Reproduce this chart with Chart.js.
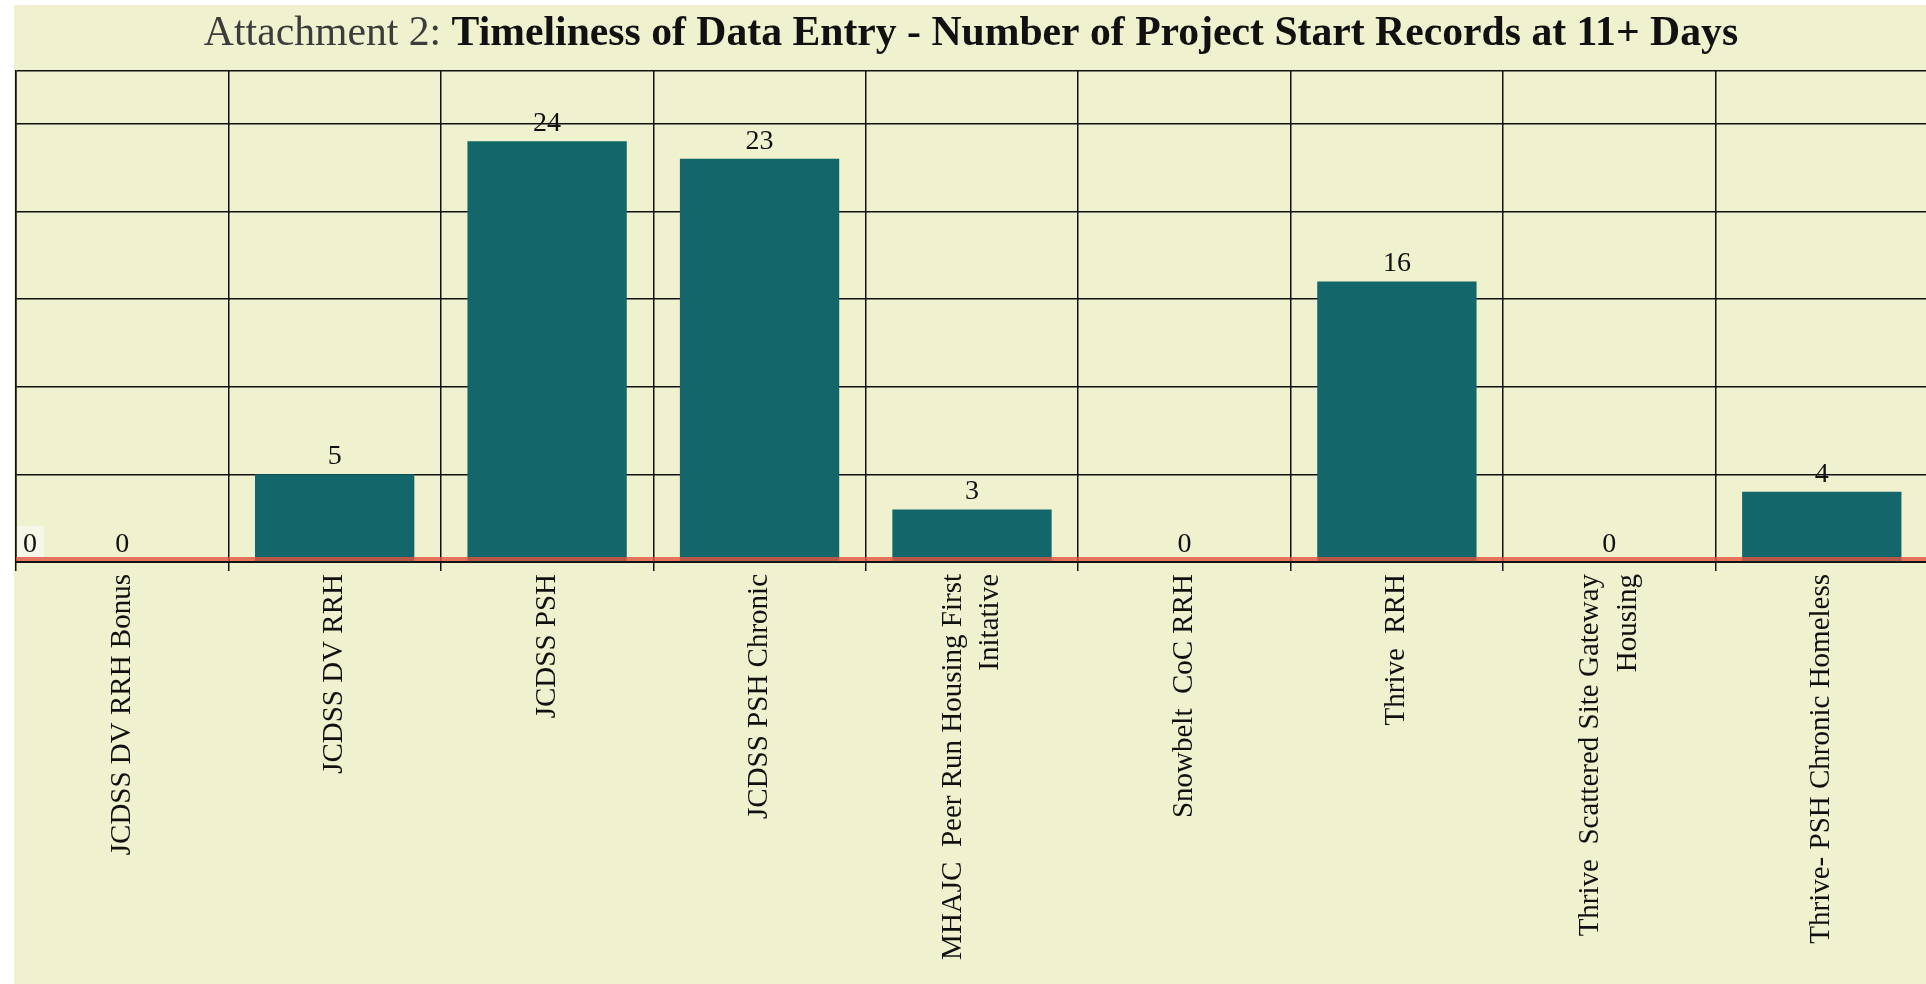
<!DOCTYPE html>
<html>
<head>
<meta charset="utf-8">
<script src="https://cdn.jsdelivr.net/npm/chart.js@4.4.1/dist/chart.umd.min.js"></script>
<style>
  html, body { margin: 0; padding: 0; background: #ffffff; overflow: hidden; }
  #wrap { position: absolute; left: 14px; top: 5px; width: 1914px; height: 979px; background: #f0f2cf; }
</style>
</head>
<body>
<div id="wrap"><canvas id="chart"></canvas></div>
<script>
// data
const categories = [
  "JCDSS DV RRH Bonus",
  "JCDSS DV RRH",
  "JCDSS PSH",
  "JCDSS PSH Chronic",
  ["MHAJC  Peer Run Housing First", "Initative"],
  "Snowbelt  CoC RRH",
  "Thrive  RRH",
  ["Thrive  Scattered Site Gateway", "Housing"],
  "Thrive- PSH Chronic Homeless"
];
const recordCounts = [0, 5, 24, 23, 3, 0, 16, 0, 4];
const yTickValues = [0, 5, 10, 15, 20, 25, 28];
const titlePrefix = "Attachment 2: ";
const titleMain = "Timeliness of Data Entry - Number of Project Start Records at 11+ Days";

const FONT = "'Liberation Serif', 'Times New Roman', serif";
const BAR_COLOR = "#13676a";
const LABEL_SIZE = 29;
const LABEL_LINE = 1.3;

// title with two weights, drawn in the top padding
const titlePlugin = {
  id: "twoPartTitle",
  beforeDraw(chart) {
    // centre the two-line category labels on their tick like the original
    const shift = LABEL_SIZE * LABEL_LINE / 2;
    chart.scales.x.getLabelItems().forEach(item => {
      if (Array.isArray(item.label)) item.options.translation[0] -= shift;
    });
  },
  afterDraw(chart) {
    const ctx = chart.ctx;
    const size = 41.7;
    ctx.save();
    ctx.textBaseline = "alphabetic";
    ctx.font = "normal " + size + "px " + FONT;
    const w1 = ctx.measureText(titlePrefix).width;
    ctx.font = "bold " + size + "px " + FONT;
    const w2 = ctx.measureText(titleMain).width;
    let x = chart.width / 2 - (w1 + w2) / 2;
    ctx.textAlign = "left";
    ctx.fillStyle = "#3c3c3c";
    ctx.font = "normal " + size + "px " + FONT;
    ctx.fillText(titlePrefix, x, 40);
    ctx.fillStyle = "#111111";
    ctx.font = "bold " + size + "px " + FONT;
    ctx.fillText(titleMain, x + w1, 40);
    ctx.restore();
  }
};

// value labels, the red zero line and the little "0" box at the left
const labelPlugin = {
  id: "valueLabels",
  afterDatasetsDraw(chart) {
    const ctx = chart.ctx;
    const area = chart.chartArea;
    const y0 = chart.scales.y.getPixelForValue(0);
    ctx.save();
    ctx.fillStyle = "rgba(228, 84, 62, 0.8)";
    ctx.fillRect(area.left, y0 - 5, area.right - area.left, 4);

    ctx.font = "28px " + FONT;
    ctx.textAlign = "center";
    ctx.textBaseline = "alphabetic";
    ctx.fillStyle = "#111111";
    const meta = chart.getDatasetMeta(0);
    meta.data.forEach((bar, i) => {
      ctx.fillText(String(recordCounts[i]), bar.x, bar.y - 10);
    });

    ctx.fillStyle = "#f6f7e6";
    ctx.fillRect(area.left + 1, y0 - 36, 27, 31);
    ctx.fillStyle = "#111111";
    ctx.fillText("0", area.left + 14, y0 - 10);
    ctx.restore();
  }
};

new Chart(document.getElementById("chart"), {
  type: "bar",
  data: {
    labels: categories,
    datasets: [{
      label: "Project Start Records at 11+ Days",
      data: recordCounts,
      backgroundColor: BAR_COLOR,
      barPercentage: 0.75,
      categoryPercentage: 1.0
    }]
  },
  options: {
    responsive: true,
    maintainAspectRatio: false,
    animation: false,
    layout: { padding: { top: 66, left: 2, right: 0, bottom: 0 } },
    plugins: {
      legend: { display: false },
      title: { display: false },
      tooltip: { enabled: false }
    },
    scales: {
      x: {
        offset: true,
        grid: { offset: true, color: "#111111", lineWidth: 1.5, tickLength: 9 },
        border: { display: true, color: "#111111", width: 2 },
        ticks: {
          autoSkip: false,
          minRotation: 90,
          maxRotation: 90,
          padding: 3,
          color: "#111111",
          font: { family: FONT, size: LABEL_SIZE, lineHeight: LABEL_LINE }
        },
        afterFit(scale) { scale.height = 422; }
      },
      y: {
        min: 0,
        max: 28,
        afterBuildTicks(scale) {
          scale.ticks = yTickValues.map(v => ({ value: v }));
        },
        grid: { color: "#111111", lineWidth: 1.5, drawTicks: false },
        border: { display: true, color: "#111111", width: 1.5 },
        ticks: { display: false }
      }
    }
  },
  plugins: [titlePlugin, labelPlugin]
});
</script>
</body>
</html>
